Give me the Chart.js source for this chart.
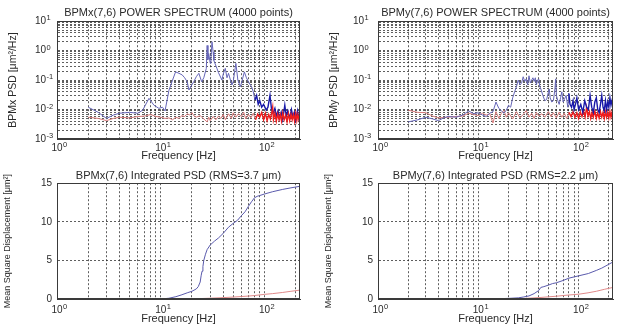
<!DOCTYPE html>
<html>
<head>
<meta charset="utf-8">
<script src="https://cdn.jsdelivr.net/npm/chart.js@4.4.1/dist/chart.umd.min.js"></script>
<style>
  html, body { margin: 0; padding: 0; background: #fff; }
  #wrap { position: relative; width: 622px; height: 330px; overflow: hidden; }
  #wrap canvas { position: absolute; }
</style>
</head>
<body>
<div id="wrap">
  <canvas id="psdX" width="311" height="165" style="left:0;top:0"></canvas>
  <canvas id="psdY" width="311" height="165" style="left:311px;top:0"></canvas>
  <canvas id="intX" width="311" height="165" style="left:0;top:165px"></canvas>
  <canvas id="intY" width="311" height="165" style="left:311px;top:165px"></canvas>
</div>
<script>
/* ---- data (frequency in Hz) ---- */
// tick labels are drawn as "10" plus a raised exponent
const xTickValues = [1, 10, 100];
const xTickExps = ['0', '1', '2'];
const psdTickValues = [0.001, 0.01, 0.1, 1, 10];
const psdTickExps = ['-3', '-2', '-1', '0', '1'];
const msdTickValues = [0, 5, 10, 15];

// BPMx power spectrum
const psdXBlueF = [2,2.5,3,3.5,4,5,6,6.7,7.7,8.6,9.6,10.4,11,12,13,13.9,15,16.1,17,18,18.7,19.5,20.8,22,23.3,24.8,26,27.5,28,28.5,29,30,30.5,31.2,32,32.5,33.5,34.8,36,38.9,40,41.9,43.5,45,48.5,50,53,55.4,58.5,60,64,67,70,75,78,81,84,87,90,94,98,104,108,113,117,121,126,130,135,140,145,150,157,162,168,175,182,188,195,200,208,214,220];
const psdXBlue  = [0.012,0.008,0.005,0.0065,0.0075,0.008,0.0075,0.0095,0.024,0.014,0.011,0.012,0.009,0.045,0.1,0.19,0.17,0.15,0.12,0.088,0.046,0.06,0.088,0.13,0.17,0.088,0.12,0.25,1.5,0.5,0.8,0.37,0.6,2.0,0.9,0.47,0.35,0.25,0.18,0.1,0.16,0.25,0.12,0.17,0.068,0.09,0.37,0.1,0.06,0.08,0.19,0.12,0.088,0.06,0.04,0.021,0.03,0.015,0.02,0.012,0.015,0.0096,0.012,0.03,0.01,0.0075,0.011,0.006,0.009,0.005,0.008,0.0045,0.014,0.006,0.009,0.005,0.01,0.0055,0.008,0.0045,0.009,0.005,0.007];
const psdXRedF = [2,2.5,3,3.5,4,5,6,7,8,9,10,11,12,13,14,15,16,17,18,19,20,21,22,24,26,28,29,30,32,34,36,38,40,42,45,48,50,53,56,60,63,66,70,74,78,82,86,90,94,98,102,106,110,114,118,120,122,126,130,134,138,142,146,150,155,160,165,170,175,180,185,190,195,200,205,210,215,220];
const psdXRed  = [0.0055,0.005,0.0042,0.005,0.0055,0.0052,0.0058,0.006,0.0068,0.0058,0.0055,0.005,0.0052,0.0045,0.0055,0.005,0.0062,0.0058,0.0072,0.0065,0.0078,0.006,0.0055,0.0062,0.0048,0.0038,0.0055,0.0042,0.0058,0.0045,0.006,0.005,0.0068,0.0045,0.0072,0.005,0.0078,0.0055,0.0072,0.0058,0.0082,0.0048,0.0068,0.0052,0.0075,0.0045,0.007,0.0055,0.008,0.0045,0.0075,0.0042,0.0068,0.0048,0.0085,0.012,0.0045,0.0075,0.004,0.0072,0.0045,0.0068,0.004,0.0078,0.0045,0.0065,0.0038,0.0072,0.0042,0.007,0.0045,0.0068,0.004,0.0075,0.0042,0.0068,0.0045,0.006];

// BPMy power spectrum
const psdYBlueF = [2,2.5,3,3.5,4,4.5,5,6,7,8,9,10,11,12,13,14,15,16,17,18,19,20,21,22,23,24,25,26,27,28,29,30,31,32,33,34,35,36,37,38,39,40,41,42,44,46,48,50,51,52,54,56,58,59,60,62,64,66,68,70,72,75,78,80,82,85,88,90,93,96,100,105,110,115,120,125,130,135,140,145,150,155,160,165,170,175,180,185,190,195,200,205,210,215,220];
const psdYBlue  = [0.0038,0.0045,0.0055,0.0048,0.0042,0.0052,0.0058,0.0055,0.0065,0.009,0.0072,0.0078,0.0065,0.0058,0.0075,0.0085,0.018,0.011,0.009,0.0075,0.0095,0.014,0.012,0.025,0.04,0.06,0.1,0.07,0.08,0.13,0.09,0.11,0.07,0.14,0.08,0.1,0.12,0.09,0.12,0.07,0.1,0.11,0.06,0.05,0.03,0.02,0.022,0.04,0.05,0.025,0.018,0.02,0.05,0.11,0.03,0.02,0.015,0.025,0.04,0.018,0.022,0.03,0.012,0.035,0.015,0.012,0.02,0.01,0.015,0.025,0.01,0.015,0.008,0.02,0.012,0.01,0.03,0.012,0.008,0.018,0.025,0.01,0.008,0.015,0.03,0.012,0.009,0.02,0.01,0.018,0.012,0.025,0.014,0.02,0.028];
const psdYRedF = [2,2.5,3,3.5,4,5,6,7,8,9,10,11,12,13,14,15,16,17,18,19,20,22,24,26,28,30,32,34,36,38,40,43,46,50,53,56,60,64,68,72,76,80,84,88,92,96,100,104,108,112,116,120,124,128,132,136,140,145,150,155,160,165,170,175,180,185,190,195,200,205,210,215,220];
const psdYRed  = [0.0095,0.008,0.0078,0.006,0.0052,0.0055,0.0058,0.006,0.0075,0.0068,0.0062,0.0075,0.0065,0.0072,0.0035,0.0085,0.005,0.0075,0.0095,0.0055,0.0078,0.0048,0.0085,0.0052,0.0068,0.0092,0.0055,0.0075,0.005,0.008,0.006,0.0072,0.0055,0.0085,0.0058,0.0078,0.0052,0.0082,0.0055,0.0075,0.005,0.008,0.0058,0.0085,0.0055,0.0078,0.005,0.0082,0.0058,0.009,0.0055,0.012,0.006,0.0085,0.005,0.008,0.0055,0.0088,0.005,0.0078,0.0052,0.0085,0.0055,0.008,0.005,0.0085,0.0055,0.008,0.0052,0.0085,0.0055,0.008,0.006];

// BPMx integrated PSD
const intXBlueF = [1.4,5,10,11,12,14,16,18,20,22,23,24,24.5,25,25.5,26,27,28,30,33,36,40,45,50,55,60,65,70,75,80,85,90,100,120,150,180,220];
const intXBlue  = [0,0.01,0.03,0.05,0.1,0.3,0.55,0.8,1.0,1.3,1.6,2.2,3.0,3.6,4.2,5.0,5.8,6.4,7.0,7.5,7.9,8.5,9.3,9.8,10.2,10.8,11.3,12.0,12.6,13.1,13.3,13.4,13.6,13.9,14.2,14.4,14.6];
const intXRedF = [1.4,20,30,40,50,60,70,80,100,120,150,180,220];
const intXRed  = [0,0.02,0.1,0.18,0.25,0.32,0.38,0.45,0.6,0.7,0.85,1.0,1.15];

// BPMy integrated PSD
const intYBlueF = [1.4,10,15,20,25,28,32,36,40,42,45,50,55,60,70,80,100,125,150,170,200,220];
const intYBlue  = [0,0.01,0.03,0.08,0.15,0.25,0.4,0.7,1.1,1.5,1.6,1.8,2.0,2.1,2.4,2.7,3.0,3.3,3.7,4.0,4.5,4.8];
const intYRedF = [1.4,20,28,40,50,60,70,80,100,124,150,180,220];
const intYRed  = [0,0.02,0.06,0.18,0.28,0.36,0.45,0.52,0.62,0.8,1.0,1.25,1.5];

/* ---- style ---- */
const FONT = "'Liberation Sans', Arial, sans-serif";
const TXT = '#2a2a2a';
const GRID = 'rgba(40,40,40,0.75)';
const FRAME = '#3a3a3a';

const pts = (fs, vs) => fs.map((f, i) => ({ x: f, y: vs[i] }));
const decades = (lo, hi) => {
  const out = [];
  for (let e = lo; e < hi; e++) for (let m = 1; m < 10; m++) out.push(m * Math.pow(10, e));
  out.push(Math.pow(10, hi));
  return out;
};
const isIn = vals => v => vals.some(t => Math.abs(v / t - 1) < 1e-6);

const frame = {
  id: 'frame',
  afterDraw(c) {
    const a = c.chartArea, ctx = c.ctx;
    ctx.save();
    ctx.strokeStyle = FRAME;
    ctx.lineWidth = 1;
    ctx.strokeRect(Math.round(a.left) + 0.5, Math.round(a.top) + 0.5,
      Math.round(a.right - a.left) - 1, Math.round(a.bottom - a.top) - 1);
    ctx.restore();
  }
};

// raised exponents next to the "10" tick labels
const expLabels = {
  id: 'expLabels',
  afterDraw(c, args, opts) {
    const ctx = c.ctx;
    ctx.save();
    ctx.fillStyle = TXT;
    ctx.font = '10px ' + FONT;
    const w10 = ctx.measureText('10').width;
    ctx.font = '7.5px ' + FONT;
    ctx.textAlign = 'left';
    ctx.textBaseline = 'alphabetic';
    const xs = c.scales.x;
    xTickValues.forEach((v, i) => {
      ctx.fillText(xTickExps[i], xs.getPixelForValue(v) + w10 / 2 + 0.5, xs.top + opts.xPad + 5);
    });
    const ys = c.scales.y;
    if (ys.type === 'logarithmic') {
      psdTickValues.forEach((v, i) => {
        ctx.fillText(psdTickExps[i], ys.right - opts.yPad + 0.5, ys.getPixelForValue(v) - 1);
      });
    }
    ctx.restore();
  }
};

// darker, heavier trace above ~80 Hz like the original's dense noise band
const split = (lo, hi) => ({
  borderColor: s => s.p0.parsed.x >= 80 ? hi : lo,
  borderWidth: s => s.p0.parsed.x >= 80 ? 1.4 : 1
});

function panel(id, o) {
  return new Chart(document.getElementById(id), {
    type: 'line',
    data: { datasets: o.sets },
    options: {
      responsive: false,
      animation: false,
      parsing: false,
      layout: { padding: { top: 0, right: o.padR, left: 0, bottom: 0 } },
      elements: { point: { radius: 0 }, line: { borderWidth: 1, tension: 0 } },
      plugins: {
        legend: { display: false },
        tooltip: { enabled: false },
        expLabels: { xPad: o.xPad, yPad: o.yPad },
        title: {
          display: true, fullSize: false, text: o.title, color: TXT,
          font: { family: FONT, size: 11, weight: 'normal' }, padding: o.titlePad
        }
      },
      scales: {
        x: {
          type: 'logarithmic', min: 1, max: 220,
          afterBuildTicks: s => { s.ticks = decades(0, 2).concat([200]).map(v => ({ value: v })); },
          afterFit: s => { s.height = o.xh; },
          ticks: {
            autoSkip: false, maxRotation: 0, padding: o.xPad, color: TXT,
            font: { family: FONT, size: 10 },
            callback: v => isIn(xTickValues)(v) ? '10' : ''
          },
          grid: { color: GRID, drawTicks: false },
          border: { color: FRAME, dash: [2, 2] },
          title: {
            display: true, text: 'Frequency [Hz]', color: TXT,
            font: { family: FONT, size: 11 }, padding: { top: 0, bottom: o.xtPad }
          }
        },
        y: o.y
      }
    },
    plugins: [frame, expLabels]
  });
}

function psdAxis(label, w, pad, tPad) {
  return {
    type: 'logarithmic', min: 0.001, max: 10,
    afterBuildTicks: s => { s.ticks = decades(-3, 1).map(v => ({ value: v })); },
    afterFit: s => { s.width = w; },
    ticks: {
      autoSkip: false, padding: pad, color: TXT,
      font: { family: FONT, size: 10 },
      callback: v => isIn(psdTickValues)(v) ? '10' : ''
    },
    grid: { color: GRID, drawTicks: false },
    border: { color: FRAME, dash: [2, 2] },
    title: {
      display: true, text: label, color: TXT,
      font: { family: FONT, size: 10.5 }, padding: { top: tPad, bottom: 0 }
    }
  };
}

function msdAxis(w, tPad) {
  return {
    type: 'linear', min: 0, max: 15,
    afterBuildTicks: s => { s.ticks = msdTickValues.map(v => ({ value: v })); },
    afterFit: s => { s.width = w; },
    ticks: { padding: 5, color: TXT, font: { family: FONT, size: 10 } },
    grid: { color: GRID, drawTicks: false },
    border: { color: FRAME, dash: [2, 2] },
    title: {
      display: true, text: 'Mean Square Displacement [μm²]', color: TXT,
      font: { family: FONT, size: 9 }, padding: { top: tPad, bottom: 0 }
    }
  };
}

panel('psdX', {
  title: 'BPMx(7,6) POWER SPECTRUM (4000 points)',
  titlePad: { top: 6, bottom: 2 }, padR: 11, xh: 26, xPad: 3, xtPad: 2, yPad: 11,
  y: psdAxis('BPMx PSD [μm²/Hz]', 57, 11, 7),
  sets: [
    { data: pts(psdXRedF, psdXRed), segment: split('#d77a7a', '#f01c1c') },
    { data: pts(psdXBlueF, psdXBlue), segment: split('#6666b8', '#1818a8') }
  ]
});

panel('psdY', {
  title: 'BPMy(7,6) POWER SPECTRUM (4000 points)',
  titlePad: { top: 6, bottom: 2 }, padR: 9, xh: 26, xPad: 3, xtPad: 2, yPad: 14,
  y: psdAxis('BPMy PSD [μm²/Hz]', 67, 14, 17),
  sets: [
    { data: pts(psdYBlueF, psdYBlue), segment: split('#6666b8', '#1818a8') },
    { data: pts(psdYRedF, psdYRed), segment: split('#d77a7a', '#f01c1c') }
  ]
});

panel('intX', {
  title: 'BPMx(7,6) Integrated PSD (RMS=3.7 μm)',
  titlePad: { top: 4, bottom: 1 }, padR: 11, xh: 31, xPad: 5, xtPad: 4, yPad: 5,
  y: msdAxis(57, 2),
  sets: [
    { data: pts(intXRedF, intXRed), borderColor: '#e08a8a' },
    { data: pts(intXBlueF, intXBlue), borderColor: '#5a5aac' }
  ]
});

panel('intY', {
  title: 'BPMy(7,6) Integrated PSD (RMS=2.2 μm)',
  titlePad: { top: 4, bottom: 1 }, padR: 9, xh: 31, xPad: 5, xtPad: 4, yPad: 5,
  y: msdAxis(67, 12),
  sets: [
    { data: pts(intYRedF, intYRed), borderColor: '#e08a8a' },
    { data: pts(intYBlueF, intYBlue), borderColor: '#5a5aac' }
  ]
});
</script>
</body>
</html>
